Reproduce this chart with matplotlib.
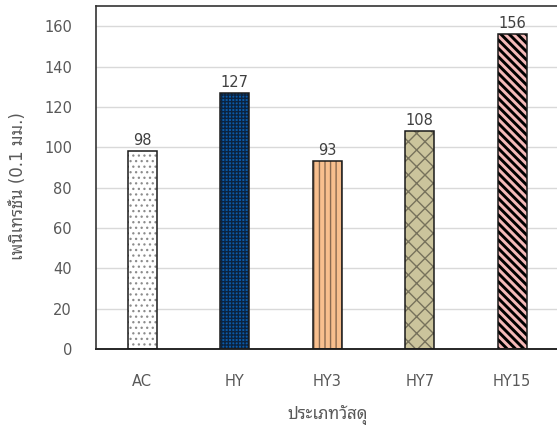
import matplotlib
matplotlib.use("Agg")
import matplotlib.pyplot as plt
import numpy as np

# Penetration test results by material type
categories = ["AC", "HY", "HY3", "HY7", "HY15"]
penetration = [98, 127, 93, 108, 156]

face_colors = ["#ffffff", "#0b5aa8", "#f8bf8e", "#cbc49c", "#f3b9b8"]
hatch_colors = ["#8c8c8c", "#0a2340", "#8a6a50", "#77725c", "#000000"]
hatches = ["...", "+++++", "|||", "xx", "\\\\\\\\"]
hatch_widths = [0.9, 1.0, 1.0, 1.0, 2.1]

fonts = ["DejaVu Sans", "Noto Sans Thai Looped"]
plt.rcParams["font.family"] = fonts
text_gray = "#595959"

fig = plt.figure(figsize=(5.57, 4.26), dpi=100)
ax = fig.add_axes([96 / 557, 77 / 426, 462.5 / 557, 343 / 426])

x = np.arange(len(categories))
width = 0.315

for xi, val, fc, hc, h, hw in zip(x, penetration, face_colors, hatch_colors, hatches, hatch_widths):
    with plt.rc_context({"hatch.linewidth": hw}):
        ax.bar(xi, val, width=width, color=fc, edgecolor=hc, hatch=h,
               linewidth=0, zorder=2)
    # crisp dark outline on top of the hatched fill
    ax.bar(xi, val, width=width, fill=False, edgecolor="#1a1a1a",
           linewidth=1.1, zorder=3)
    ax.text(xi, val + 1.5, f"{val}", ha="center", va="bottom",
            fontsize=10.5, color="#404040")

ax.set_xlim(-0.5, len(categories) - 0.5)
ax.set_ylim(0, 170)
ax.set_yticks(np.arange(0, 161, 20))
ax.set_xticks(x)
ax.set_xticklabels(categories)
ax.yaxis.grid(True, color="#d9d9d9", linewidth=1.0, zorder=0)
ax.set_axisbelow(True)

for side in ["left", "top", "right"]:
    ax.spines[side].set_color("#333333")
    ax.spines[side].set_linewidth(1.2)
ax.spines["bottom"].set_color("#262626")
ax.spines["bottom"].set_linewidth(1.4)

ax.tick_params(axis="both", length=0, labelsize=10.5, labelcolor=text_gray)
ax.tick_params(axis="y", pad=17.3)
ax.tick_params(axis="x", pad=17.7)

ax.set_xlabel("ประเภทวัสดุ", fontsize=12, color=text_gray, labelpad=12)
ax.set_ylabel("เพนิเทรชั่น (0.1 มม.)", fontsize=12, color=text_gray)
ax.yaxis.set_label_coords(-69 / 462.5, 0.475)

fig.savefig("out.png", dpi=100)
